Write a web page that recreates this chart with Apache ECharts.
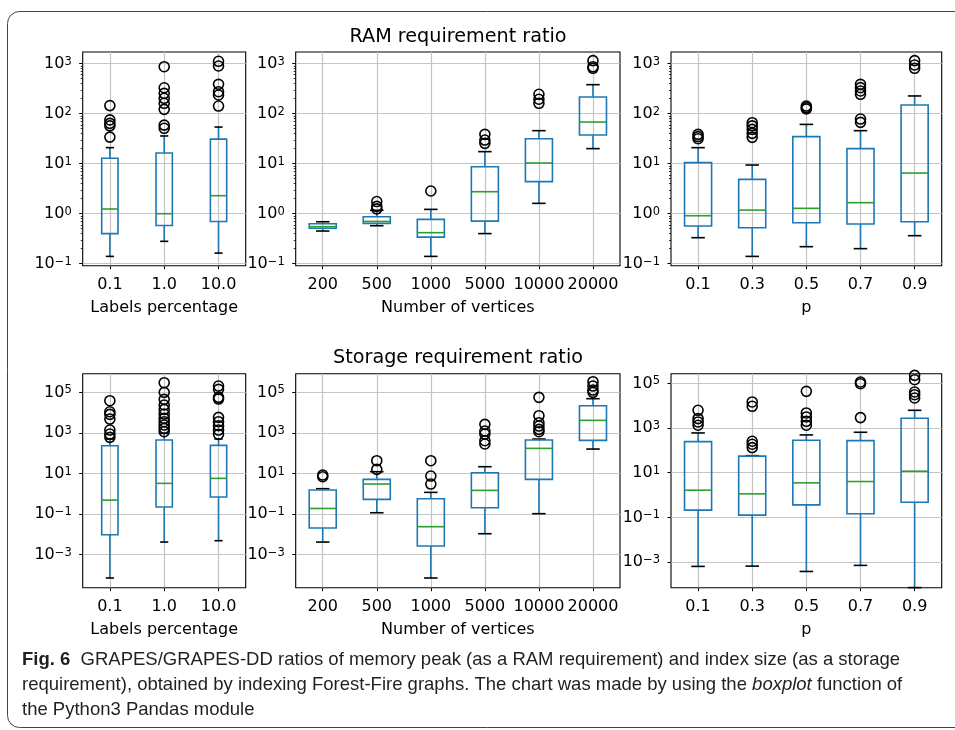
<!DOCTYPE html>
<html><head><meta charset="utf-8">
<script src="https://cdn.jsdelivr.net/npm/echarts@6/dist/echarts.min.js"></script>
<style>html,body{margin:0;padding:0;background:#fff}#c{width:955px;height:730px}</style>
</head><body><div id="c"></div>
<script>
// ---------- categories ----------
const labelsCats = ['0.1', '1.0', '10.0'];
const verticesCats = ['200', '500', '1000', '5000', '10000', '20000'];
const pCats = ['0.1', '0.3', '0.5', '0.7', '0.9'];

// ---------- RAM requirement ratio: [lower whisker, Q1, median, Q3, upper whisker] ----------
const ramLabelsBox = [
  [0.14, 0.40, 1.24, 12.8, 20.9],
  [0.28, 0.58, 1.0, 16.3, 35.8],
  [0.163, 0.70, 2.29, 31, 54]
];
const ramLabelsOut = [
  [145, 75, 64, 57, 34],
  [870, 330, 255, 203, 161, 122, 59, 51],
  [1114, 898, 386, 275, 236, 142]
];
const ramVertBox = [
  [0.45, 0.51, 0.55, 0.63, 0.69],
  [0.575, 0.64, 0.70, 0.87, 1.17],
  [0.14, 0.34, 0.417, 0.77, 1.22],
  [0.40, 0.71, 2.75, 8.7, 17.4],
  [1.61, 4.37, 10.3, 31.6, 45.7],
  [20, 37.4, 68, 215, 380]
];
const ramVertOut = [
  [],
  [1.75, 1.4, 1.25],
  [2.84],
  [38.6, 29.7, 25.5],
  [244, 194, 161],
  [1148, 870, 807]
];
const ramPBox = [
  [0.331, 0.567, 0.91, 10.5, 20.9],
  [0.14, 0.525, 1.18, 4.86, 9.4],
  [0.219, 0.66, 1.28, 34.7, 61],
  [0.2, 0.62, 1.66, 20, 45.7],
  [0.363, 0.69, 6.5, 149, 226]
];
const ramPOut = [
  [38.6, 34.7, 31.6],
  [66, 57, 48.6, 40.4, 33.6],
  [142, 132, 124],
  [386, 331, 284, 244, 78, 67],
  [1148, 940, 807]
];

// ---------- Storage requirement ratio ----------
const stLabelsBox = [
  [7.1e-5, 0.0097, 0.49, 235, 500],
  [0.0042, 0.223, 3.27, 448, 950],
  [0.0049, 0.695, 5.78, 244, 501]
];
const stLabelsOut = [
  [38800, 11100, 8240, 4850, 1390, 885, 606],
  [299000, 100000, 45200, 23800, 14500, 8560, 5240, 3590, 2450, 1680, 1150],
  [205000, 141000, 56700, 46900, 5860, 3580, 2280, 1390, 851]
];
const stVertBox = [
  [0.0042, 0.0206, 0.19, 1.54, 1.79],
  [0.117, 0.53, 3.04, 5.16, 12.3],
  [7.1e-5, 0.00267, 0.024, 0.575, 1.18],
  [0.0108, 0.207, 1.48, 11, 21.7],
  [0.105, 5.16, 174, 448, 501],
  [161, 432, 4170, 22000, 48800]
];
const stVertOut = [
  [8.4, 7.0],
  [42.9, 16],
  [42.9, 7.5, 3.04],
  [2650, 1240, 885, 415, 285],
  [56700, 7080, 3200, 2190, 1500, 1150],
  [336000, 205000, 130000, 100000]
];
const stPBox = [
  [0.00064, 0.211, 1.65, 247, 603],
  [0.00066, 0.126, 1.13, 55, 58],
  [0.00038, 0.365, 3.51, 283, 491],
  [0.00071, 0.145, 4.03, 274, 646],
  [7.2e-5, 0.48, 11.7, 2730, 6210]
];
const stPOut = [
  [6210, 2640, 1870, 1330],
  [14700, 9380, 256, 188, 133],
  [43900, 4720, 3130, 2000, 1330],
  [115000, 96700, 2930],
  [228000, 146000, 41000, 31100, 22100]
];

// ---------- axes: decade exponents (tick labels 10^n) and visible ranges ----------
const ramTickExp = [-1, 0, 1, 2, 3];
const stTickExp = [-3, -1, 1, 3, 5];
const ramRangeExp = [-1.04, 3.233];
const stRangeExpA = [-4.626, 5.92];
const stRangeExpB = [-4.147, 5.432];

const titles = ['RAM requirement ratio', 'Storage requirement ratio'];
const xNames = ['Labels percentage', 'Number of vertices', 'p'];

// ---------- styling ----------
const BLUE = '#1f77b4', GREEN = '#2ca02c', GRIDC = '#c4c4c4';
const FONT = 'DejaVu Sans';
const CAPFONT = '"Liberation Sans", Arial, sans-serif';
const L = v => Math.log10(v);

const topY = 52, topH = 213.7, botY = 373.7, botH = 214;
const cols = [[82.7, 163], [295.7, 324.3], [671, 270.7]];

const panels = [
  {cats: labelsCats, box: ramLabelsBox, out: ramLabelsOut, name: xNames[0], col: 0, y: topY, h: topH, range: ramRangeExp, ticks: ramTickExp, minor: true},
  {cats: verticesCats, box: ramVertBox, out: ramVertOut, name: xNames[1], col: 1, y: topY, h: topH, range: ramRangeExp, ticks: ramTickExp, minor: true},
  {cats: pCats, box: ramPBox, out: ramPOut, name: xNames[2], col: 2, y: topY, h: topH, range: ramRangeExp, ticks: ramTickExp, minor: true},
  {cats: labelsCats, box: stLabelsBox, out: stLabelsOut, name: xNames[0], col: 0, y: botY, h: botH, range: stRangeExpA, ticks: stTickExp, minor: false},
  {cats: verticesCats, box: stVertBox, out: stVertOut, name: xNames[1], col: 1, y: botY, h: botH, range: stRangeExpA, ticks: stTickExp, minor: false},
  {cats: pCats, box: stPBox, out: stPOut, name: xNames[2], col: 2, y: botY, h: botH, range: stRangeExpB, ticks: stTickExp, minor: false}
];

// minor log ticks (2..9 x 10^n) for the RAM row
const minorTicks = [];
for (let e = -2; e <= 3; e++) for (let m = 2; m <= 9; m++) {
  const v = L(m) + e;
  if (v > ramRangeExp[0] && v < ramRangeExp[1]) minorTicks.push(v);
}

const RICH = {
  b: {fontFamily: FONT, fontSize: 16, color: '#000', lineHeight: 16, padding: [3, 0, 0, 0], verticalAlign: 'bottom'},
  s: {fontFamily: FONT, fontSize: 11.5, color: '#000', lineHeight: 11.5, verticalAlign: 'top'}
};
function expFmt(v) {
  const e = Math.round(v);
  if (Math.abs(v - e) > 1e-6) return '';
  return '{b|10}{s|' + (e < 0 ? '\u2212' + (-e) : String(e)) + '}';
}

const grid = [], xAxis = [], yAxis = [], series = [];
panels.forEach((p, i) => {
  grid.push({left: cols[p.col][0], top: p.y, width: cols[p.col][1], height: p.h,
    show: true, borderColor: '#000', borderWidth: 1.1, backgroundColor: 'transparent', containLabel: false});
  xAxis.push({
    type: 'category', gridIndex: i, data: p.cats, boundaryGap: true, position: 'bottom',
    name: p.name, nameLocation: 'middle', nameGap: 34,
    nameTextStyle: {fontFamily: FONT, fontSize: 16, color: '#000'},
    axisLine: {show: false, onZero: false},
    axisTick: {show: true, alignWithLabel: true, interval: 0, length: 3.5, lineStyle: {color: '#000', width: 1}},
    axisLabel: {interval: 0, margin: 11, fontFamily: FONT, fontSize: 16, color: '#000'},
    splitLine: {show: true, alignWithLabel: true, interval: 0, lineStyle: {color: GRIDC, width: 1.2}}
  });
  const yi = yAxis.length;
  yAxis.push({
    type: 'value', gridIndex: i, position: 'left', min: p.range[0], max: p.range[1],
    axisLine: {show: false, onZero: false},
    axisTick: {show: true, length: 3.5, customValues: p.ticks, lineStyle: {color: '#000', width: 1}},
    axisLabel: {show: true, customValues: p.ticks, margin: 11, formatter: expFmt, rich: RICH},
    splitLine: {show: true, customValues: p.ticks, lineStyle: {color: GRIDC, width: 1.2}}
  });
  if (p.minor) {
    yAxis.push({
      type: 'value', gridIndex: i, position: 'left', min: p.range[0], max: p.range[1],
      axisLine: {show: false, onZero: false},
      axisTick: {show: true, length: 2, customValues: minorTicks, lineStyle: {color: '#000', width: 0.8}},
      axisLabel: {show: false}, splitLine: {show: false}
    });
  }
  const n = p.cats.length;
  const wFrac = Math.min(0.5, 0.15 * (n - 1));
  series.push({
    type: 'custom', xAxisIndex: i, yAxisIndex: yi, silent: true, z: 3,
    data: p.box.map((b, j) => [j, L(b[0]), L(b[1]), L(b[2]), L(b[3]), L(b[4])]),
    encode: {x: 0, y: [1, 2, 3, 4, 5]},
    renderItem: function (params, api) {
      const j = api.value(0);
      const band = api.size([1, 0])[0];
      const bw = band * wFrac;
      const pMin = api.coord([j, api.value(1)]);
      const pQ1 = api.coord([j, api.value(2)]);
      const pMed = api.coord([j, api.value(3)]);
      const pQ3 = api.coord([j, api.value(4)]);
      const pMax = api.coord([j, api.value(5)]);
      const cx = pMin[0];
      const lw = 1.6;
      return {type: 'group', children: [
        {type: 'line', shape: {x1: cx, y1: pQ3[1], x2: cx, y2: pMax[1]}, style: {stroke: BLUE, lineWidth: lw}},
        {type: 'line', shape: {x1: cx, y1: pQ1[1], x2: cx, y2: pMin[1]}, style: {stroke: BLUE, lineWidth: lw}},
        {type: 'line', shape: {x1: cx - bw / 4, y1: pMax[1], x2: cx + bw / 4, y2: pMax[1]}, style: {stroke: '#000', lineWidth: lw}},
        {type: 'line', shape: {x1: cx - bw / 4, y1: pMin[1], x2: cx + bw / 4, y2: pMin[1]}, style: {stroke: '#000', lineWidth: lw}},
        {type: 'rect', shape: {x: cx - bw / 2, y: pQ3[1], width: bw, height: pQ1[1] - pQ3[1]}, style: {fill: 'none', stroke: BLUE, lineWidth: lw}},
        {type: 'line', shape: {x1: cx - bw / 2, y1: pMed[1], x2: cx + bw / 2, y2: pMed[1]}, style: {stroke: GREEN, lineWidth: lw}}
      ]};
    }
  });
  const pts = [];
  p.out.forEach((arr, j) => arr.forEach(v => pts.push([j, L(v)])));
  series.push({
    type: 'scatter', xAxisIndex: i, yAxisIndex: yi, silent: true, z: 4,
    symbol: 'circle', symbolSize: 10, data: pts,
    itemStyle: {color: 'rgba(0,0,0,0)', borderColor: '#000', borderWidth: 1.6, opacity: 1}
  });
});

const capStyle = {fontFamily: CAPFONT, fontSize: 18.5, fill: '#231f20', verticalAlign: 'middle', align: 'left'};
const graphic = [
  {type: 'rect', silent: true, z: -1, shape: {x: 7.5, y: 11.5, width: 1000, height: 716, r: 12},
    style: {fill: 'none', stroke: '#444', lineWidth: 1}},
  {type: 'text', silent: true, x: 458, y: 36.7, style: {text: titles[0], fontFamily: FONT, fontSize: 19.2, fill: '#000', align: 'center', verticalAlign: 'middle'}},
  {type: 'text', silent: true, x: 458, y: 358.4, style: {text: titles[1], fontFamily: FONT, fontSize: 19.2, fill: '#000', align: 'center', verticalAlign: 'middle'}},
  {type: 'text', silent: true, x: 22, y: 660.3, style: Object.assign({}, capStyle, {
    text: '{bold|Fig. 6}  GRAPES/GRAPES-DD ratios of memory peak (as a RAM requirement) and index size (as a storage',
    rich: {bold: {fontFamily: CAPFONT, fontSize: 18.5, fontWeight: 'bold', fill: '#231f20'}}})},
  {type: 'text', silent: true, x: 22, y: 685.3, style: Object.assign({}, capStyle, {
    text: 'requirement), obtained by indexing Forest-Fire graphs. The chart was made by using the {it|boxplot} function of',
    rich: {it: {fontFamily: CAPFONT, fontSize: 18.5, fontStyle: 'italic', fill: '#231f20'}}})},
  {type: 'text', silent: true, x: 22, y: 710.3, style: Object.assign({}, capStyle, {text: 'the Python3 Pandas module'})}
];

const chart = echarts.init(document.getElementById('c'), null, {renderer: 'canvas'});
chart.setOption({
  animation: false,
  backgroundColor: '#fff',
  textStyle: {fontFamily: FONT},
  grid: grid, xAxis: xAxis, yAxis: yAxis, series: series, graphic: graphic
});
</script>
</body></html>
